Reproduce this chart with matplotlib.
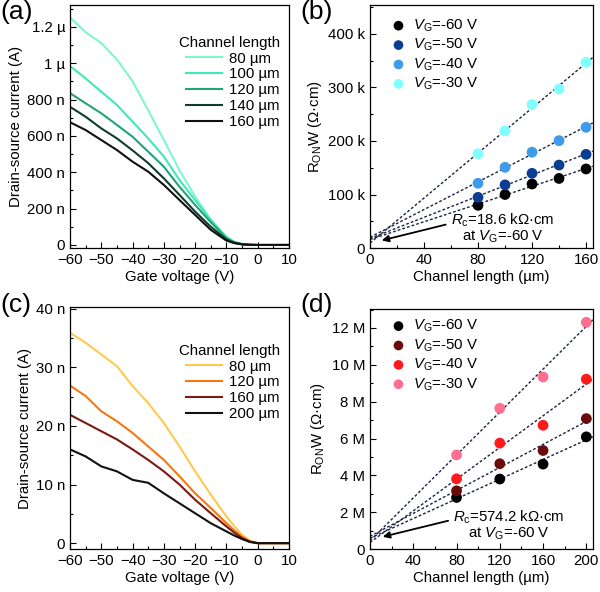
import numpy as np
import matplotlib
matplotlib.use("Agg")
import matplotlib.pyplot as plt
from matplotlib.ticker import MultipleLocator

plt.rcParams['font.family'] = ['Liberation Sans', 'DejaVu Sans']
plt.rcParams['mathtext.fontset'] = 'custom'
plt.rcParams['mathtext.rm'] = 'Liberation Sans'
plt.rcParams['mathtext.it'] = 'Liberation Sans:italic'
plt.rcParams['font.size'] = 10.8

# ---------------- data ----------------
vg = [-60, -55, -50, -45, -40, -35, -30, -25, -20, -15, -10, -7.5, -5, -2.5, 0, 5, 10]
a_labels = ["80 µm", "100 µm", "120 µm", "140 µm", "160 µm"]
a_colors = ["#7ff5d2", "#3fe8b6", "#1fa57b", "#0f3d2c", "#111111"]
a_I80 = [1.251, 1.17, 1.11, 1.02, 0.90, 0.74, 0.577, 0.41, 0.266, 0.137, 0.046, 0.018, 0.006, 0.001, 0.0, 0.0, 0.0]
a_I100 = [0.984, 0.916, 0.843, 0.77, 0.678, 0.586, 0.486, 0.357, 0.247, 0.137, 0.042, 0.016, 0.005, 0.001, 0.0, 0.0, 0.0]
a_I120 = [0.835, 0.779, 0.724, 0.66, 0.595, 0.513, 0.43, 0.32, 0.22, 0.125, 0.037, 0.014, 0.004, 0.001, 0.0, 0.0, 0.0]
a_I140 = [0.76, 0.705, 0.641, 0.586, 0.52, 0.45, 0.366, 0.275, 0.183, 0.10, 0.03, 0.012, 0.004, 0.001, 0.0, 0.0, 0.0]
a_I160 = [0.675, 0.632, 0.577, 0.522, 0.458, 0.403, 0.33, 0.247, 0.165, 0.083, 0.024, 0.010, 0.003, 0.001, 0.0, 0.0, 0.0]
a_currents = [a_I80, a_I100, a_I120, a_I140, a_I160]  # in µA

c_labels = ["80 µm", "120 µm", "160 µm", "200 µm"]
c_colors = ["#ffc94d", "#f5780f", "#7a1a10", "#111111"]
c_I80 = [35.9, 34.2, 32.2, 30.2, 26.8, 23.9, 20.5, 16.5, 12.25, 8.26, 4.56, 2.9, 1.42, 0.4, 0.0, 0.0, 0.0]
c_I120 = [26.9, 25.1, 22.5, 20.8, 18.8, 16.5, 14.2, 11.4, 8.5, 6.0, 3.4, 2.2, 1.1, 0.3, 0.0, 0.0, 0.0]
c_I160 = [21.9, 20.5, 19.1, 17.7, 16.0, 14.2, 12.25, 10.0, 7.4, 5.1, 2.85, 1.8, 0.85, 0.25, 0.0, 0.0, 0.0]
c_I200 = [16.0, 14.8, 13.1, 12.25, 10.8, 10.3, 8.5, 6.8, 5.1, 3.4, 2.0, 1.3, 0.7, 0.2, 0.0, 0.0, 0.0]
c_currents = [c_I80, c_I120, c_I160, c_I200]  # in nA

b_L = [80, 100, 120, 140, 160]
b_labels = ["-60 V", "-50 V", "-40 V", "-30 V"]
b_colors = ["#000000", "#0b3d91", "#3d9be9", "#80ffff"]
b_R60 = [79.8, 100, 119.6, 130, 147.7]
b_R50 = [94.7, 118, 139.6, 155, 175]
b_R40 = [121, 150.8, 179, 200.6, 225.5]
b_R30 = [176, 219, 268, 297, 347]
b_R = [b_R60, b_R50, b_R40, b_R30]  # kΩ·cm

d_L = [80, 120, 160, 200]
d_labels = ["-60 V", "-50 V", "-40 V", "-30 V"]
d_colors = ["#000000", "#6b0a0a", "#ff1a1a", "#ff6f8f"]
d_R60 = [2.80, 3.80, 4.61, 6.09]
d_R50 = [3.16, 4.63, 5.35, 7.08]
d_R40 = [3.81, 5.75, 6.72, 9.22]
d_R30 = [5.11, 7.64, 9.34, 12.31]
d_R = [d_R60, d_R50, d_R40, d_R30]  # MΩ·cm

# ---------------- figure ----------------
fig = plt.figure(figsize=(6.0, 5.92), dpi=100)
axa = fig.add_axes([0.1167, 0.581, 0.365, 0.4106])
axb = fig.add_axes([0.6167, 0.581, 0.3713, 0.4106])
axc = fig.add_axes([0.1167, 0.0726, 0.365, 0.4088])
axd = fig.add_axes([0.6167, 0.0726, 0.3713, 0.4054])

def style(ax):
    ax.tick_params(which='both', direction='in', top=False, right=False)
    ax.tick_params(which='major', length=4, width=0.8)
    ax.tick_params(which='minor', length=2.5, width=0.8)
    for s in ax.spines.values():
        s.set_linewidth(0.9)

# (a)
for I, col, lab in zip(a_currents, a_colors, a_labels):
    axa.plot(vg, I, color=col, lw=1.5, label=lab)
axa.set_xlim(-60, 10)
axa.set_ylim(-0.017, 1.32)
axa.set_xticks([-60, -50, -40, -30, -20, -10, 0, 10])
axa.set_yticks([0, 0.2, 0.4, 0.6, 0.8, 1.0, 1.2],
               ["0", "200 n", "400 n", "600 n", "800 n", "1 µ", "1.2 µ"])
axa.xaxis.set_minor_locator(MultipleLocator(5))
axa.yaxis.set_minor_locator(MultipleLocator(0.1))
axa.set_xlabel("Gate voltage (V)", labelpad=2)
axa.set_ylabel("Drain-source current (A)", labelpad=3)
style(axa)
axa.legend(title="Channel length", loc='upper right', bbox_to_anchor=(1.0, 0.91),
           frameon=False, alignment='right', handlelength=2.4, handletextpad=0.5,
           labelspacing=0.12, fontsize=10.8, title_fontsize=10.8, borderaxespad=0.2)

# (c)
for I, col, lab in zip(c_currents, c_colors, c_labels):
    axc.plot(vg, I, color=col, lw=1.5, label=lab)
axc.set_xlim(-60, 10)
axc.set_ylim(-1.0, 40.3)
axc.set_xticks([-60, -50, -40, -30, -20, -10, 0, 10])
axc.set_yticks([0, 10, 20, 30, 40], ["0", "10 n", "20 n", "30 n", "40 n"])
axc.xaxis.set_minor_locator(MultipleLocator(5))
axc.yaxis.set_minor_locator(MultipleLocator(5))
axc.set_xlabel("Gate voltage (V)", labelpad=2)
axc.set_ylabel("Drain-source current (A)", labelpad=3)
style(axc)
axc.legend(title="Channel length", loc='upper right', bbox_to_anchor=(1.0, 0.885),
           frameon=False, alignment='right', handlelength=2.4, handletextpad=0.5,
           labelspacing=0.12, fontsize=10.8, title_fontsize=10.8, borderaxespad=0.2)

# (b)
xfit_b = np.array([0, 165])
for R, col, lab in zip(b_R, b_colors, b_labels):
    p = np.polyfit(b_L, R, 1)
    axb.plot(xfit_b, np.polyval(p, xfit_b), ls=(0, (2, 1.5)), color="#1a2440", lw=1.0, zorder=2)
    axb.scatter(b_L, R, s=60, color=col, edgecolors='none', zorder=3,
                label=r"$\mathit{V}_\mathrm{G}$=" + lab)
axb.set_xlim(0, 165)
axb.set_ylim(0, 454)
axb.set_xticks([0, 40, 80, 120, 160])
axb.set_yticks([0, 100, 200, 300, 400], ["0", "100 k", "200 k", "300 k", "400 k"])
axb.xaxis.set_minor_locator(MultipleLocator(20))
axb.yaxis.set_minor_locator(MultipleLocator(50))
axb.set_xlabel("Channel length (µm)", labelpad=2)
axb.set_ylabel(r"R$_\mathrm{ON}$W (Ω·cm)", labelpad=3)
style(axb)
axb.legend(loc='upper left', bbox_to_anchor=(0.02, 0.985), frameon=False,
           handletextpad=0.0, labelspacing=0.2, fontsize=10.8, markerscale=0.9,
           borderaxespad=0.2)
axb.annotate("", xy=(6.7, 13), xytext=(58, 45),
             arrowprops=dict(arrowstyle='-|>', color='black', lw=1.3, mutation_scale=10))
axb.text(98.5, 37, "$\\mathit{R}_\\mathrm{c}$=18.6 kΩ·cm\nat $\\mathit{V}_\\mathrm{G}$=-60 V",
         ha='center', va='center', multialignment='center', fontsize=10.8, linespacing=1.0)

# (d)
xfit_d = np.array([0, 206])
for R, col, lab in zip(d_R, d_colors, d_labels):
    p = np.polyfit(d_L, R, 1)
    axd.plot(xfit_d, np.polyval(p, xfit_d), ls=(0, (2, 1.5)), color="#1a2440", lw=1.0, zorder=2)
    axd.scatter(d_L, R, s=60, color=col, edgecolors='none', zorder=3,
                label=r"$\mathit{V}_\mathrm{G}$=" + lab)
axd.set_xlim(0, 206)
axd.set_ylim(0, 13.03)
axd.set_xticks([0, 40, 80, 120, 160, 200])
axd.set_yticks([0, 2, 4, 6, 8, 10, 12], ["0", "2 M", "4 M", "6 M", "8 M", "10 M", "12 M"])
axd.xaxis.set_minor_locator(MultipleLocator(20))
axd.yaxis.set_minor_locator(MultipleLocator(1))
axd.set_xlabel("Channel length (µm)", labelpad=2)
axd.set_ylabel(r"R$_\mathrm{ON}$W (Ω·cm)", labelpad=3)
style(axd)
axd.legend(loc='upper left', bbox_to_anchor=(0.02, 1.0), frameon=False,
           handletextpad=0.0, labelspacing=0.2, fontsize=10.8, markerscale=0.9,
           borderaxespad=0.2)
axd.annotate("", xy=(9.3, 0.63), xytext=(74.7, 1.57),
             arrowprops=dict(arrowstyle='-|>', color='black', lw=1.3, mutation_scale=10))
axd.text(128, 1.3, "$\\mathit{R}_\\mathrm{c}$=574.2 kΩ·cm\nat $\\mathit{V}_\\mathrm{G}$=-60 V",
         ha='center', va='center', multialignment='center', fontsize=10.8, linespacing=1.0)

# panel labels
fig.text(0.0, 1.0, "(a)", fontsize=19, va='top', ha='left')
fig.text(0.5, 1.0, "(b)", fontsize=19, va='top', ha='left')
fig.text(0.0, 0.505, "(c)", fontsize=19, va='top', ha='left')
fig.text(0.5, 0.505, "(d)", fontsize=19, va='top', ha='left')

fig.savefig("out.png", dpi=100)
